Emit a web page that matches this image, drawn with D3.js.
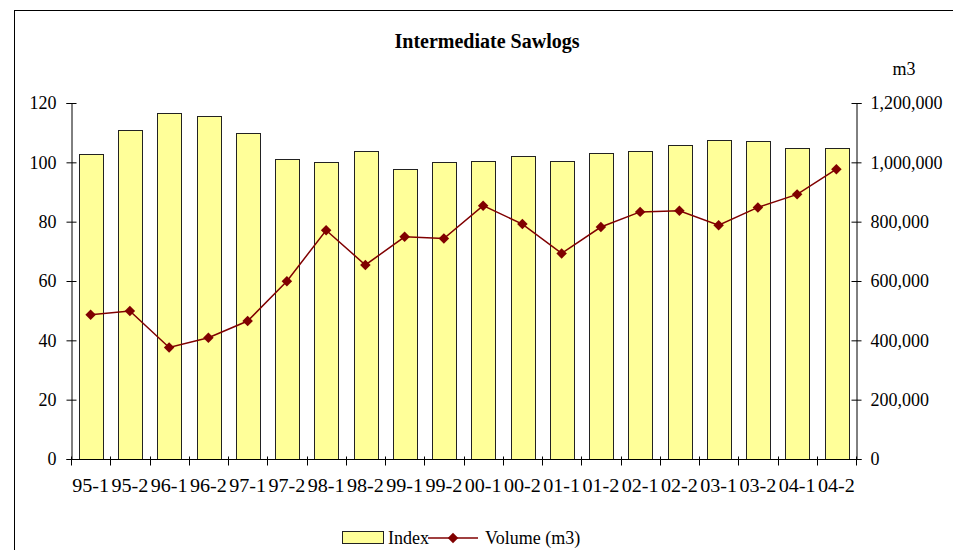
<!DOCTYPE html>
<html>
<head>
<meta charset="utf-8">
<script src="https://cdn.jsdelivr.net/npm/d3@7"></script>
<style>
  body { margin: 0; background: #fff; }
  svg text { font-family: "Liberation Serif", "Times New Roman", Tinos, "DejaVu Serif", serif !important; fill: #000; }
</style>
</head>
<body>
<div id="chart"></div>
<script>
// chart data
const periods = ['95-1', '95-2', '96-1', '96-2', '97-1', '97-2', '98-1', '98-2', '99-1', '99-2',
                 '00-1', '00-2', '01-1', '01-2', '02-1', '02-2', '03-1', '03-2', '04-1', '04-2'];
const indexValues = [102.7, 111, 116.5, 115.5, 109.8, 101, 100, 103.7, 97.6, 100,
                     100.3, 102, 100.3, 103.2, 103.7, 106, 107.6, 107.1, 104.7, 104.7];
const volumeValues = [486000, 499000, 376000, 409000, 465000, 599000, 771000, 654000, 749000, 743000,
                      854000, 792000, 693000, 782000, 833000, 837000, 788000, 848000, 892000, 977000];
const leftTicks = [0, 20, 40, 60, 80, 100, 120];
const rightTicks = [0, 200000, 400000, 600000, 800000, 1000000, 1200000];

const initChart = () => {
    const width = 953;
    const height = 550;
    const plot = { left: 71, right: 856, top: 103, bottom: 459 };
    const serif = '"Liberation Serif", "Times New Roman", Tinos, "DejaVu Serif", serif';

    const svg = d3.select('#chart')
        .append('svg')
        .attr('width', width)
        .attr('height', height)
        .attr('font-family', serif);

    // outer frame
    svg.append('rect')
        .attr('x', 14.5).attr('y', 10.5)
        .attr('width', 960).attr('height', 600)
        .attr('fill', 'none')
        .attr('stroke', '#000')
        .attr('stroke-width', 1);

    const x = d3.scaleBand()
        .domain(periods)
        .range([plot.left, plot.right])
        .paddingInner(0.4)
        .paddingOuter(0.2);

    const yLeft = d3.scaleLinear().domain([0, 120]).range([plot.bottom, plot.top]);
    const yRight = d3.scaleLinear().domain([0, 1200000]).range([plot.bottom, plot.top]);

    // bars
    svg.append('g')
        .selectAll('rect')
        .data(indexValues)
        .join('rect')
        .attr('x', (d, i) => Math.round(x(periods[i])) + 0.5)
        .attr('y', d => Math.round(yLeft(d)) + 0.5)
        .attr('width', Math.round(x.bandwidth()))
        .attr('height', d => plot.bottom - Math.round(yLeft(d)))
        .attr('fill', '#FFFF99')
        .attr('stroke', '#222')
        .attr('stroke-width', 1);

    // left axis
    const leftAxis = svg.append('g')
        .attr('transform', `translate(${plot.left + 0.5},0)`)
        .call(d3.axisLeft(yLeft).tickValues(leftTicks).tickSize(5).tickPadding(10));
    leftAxis.selectAll('.tick line').attr('x1', 5);

    // right axis
    const rightAxis = svg.append('g')
        .attr('transform', `translate(${plot.right + 0.5},0)`)
        .call(d3.axisRight(yRight).tickValues(rightTicks).tickSize(5).tickPadding(9)
            .tickFormat(d3.format(',')));
    rightAxis.selectAll('.tick line').attr('x1', -5);

    // x axis with ticks between categories
    const xAxis = svg.append('g')
        .attr('transform', `translate(0,${plot.bottom + 0.5})`)
        .call(d3.axisBottom(x).tickSize(0).tickPadding(20));
    xAxis.selectAll('.tick text').attr('transform', 'scale(1.12,1)');
    const step = x.step();
    xAxis.selectAll('.sep')
        .data(d3.range(periods.length + 1))
        .join('line')
        .attr('class', 'sep')
        .attr('x1', i => Math.round(plot.left + i * step) + 0.5)
        .attr('x2', i => Math.round(plot.left + i * step) + 0.5)
        .attr('y1', -3).attr('y2', 6)
        .attr('stroke', '#000');

    [leftAxis, rightAxis, xAxis].forEach(g => {
        g.attr('font-family', serif).attr('font-size', 18);
        g.select('.domain').attr('stroke', '#000');
        g.selectAll('.tick line').attr('stroke', '#000');
    });
    xAxis.select('.domain').attr('d', `M${plot.left},0H${plot.right}`);

    // volume line
    const cx = i => x(periods[i]) + x.bandwidth() / 2;
    const line = d3.line()
        .x((d, i) => cx(i))
        .y(d => yRight(d));

    svg.append('path')
        .datum(volumeValues)
        .attr('d', line)
        .attr('fill', 'none')
        .attr('stroke', '#800000')
        .attr('stroke-width', 1.5);

    const diamond = d3.symbol().type(d3.symbolDiamond2).size(70);
    svg.append('g')
        .selectAll('path')
        .data(volumeValues)
        .join('path')
        .attr('d', diamond)
        .attr('transform', (d, i) => `translate(${cx(i)},${yRight(d)})`)
        .attr('fill', '#800000');

    // title and unit
    svg.append('text')
        .attr('x', 487).attr('y', 48)
        .attr('text-anchor', 'middle')
        .attr('font-size', 20)
        .attr('font-weight', 'bold')
        .text('Intermediate Sawlogs');

    svg.append('text')
        .attr('x', 904).attr('y', 75)
        .attr('text-anchor', 'middle')
        .attr('font-size', 18)
        .text('m3');

    // legend
    const legend = svg.append('g').attr('transform', 'translate(0,538)');
    legend.append('rect')
        .attr('x', 342.5).attr('y', -6.5)
        .attr('width', 41).attr('height', 12)
        .attr('fill', '#FFFF99')
        .attr('stroke', '#222');
    legend.append('text')
        .attr('x', 388).attr('y', 6)
        .attr('font-size', 18)
        .text('Index');
    legend.append('line')
        .attr('x1', 428).attr('x2', 478)
        .attr('y1', 0).attr('y2', 0)
        .attr('stroke', '#800000')
        .attr('stroke-width', 1.5);
    legend.append('path')
        .attr('d', diamond)
        .attr('transform', 'translate(453,0)')
        .attr('fill', '#800000');
    legend.append('text')
        .attr('x', 485).attr('y', 6)
        .attr('font-size', 18)
        .text('Volume (m3)');
};

document.addEventListener('DOMContentLoaded', initChart);
</script>
</body>
</html>
